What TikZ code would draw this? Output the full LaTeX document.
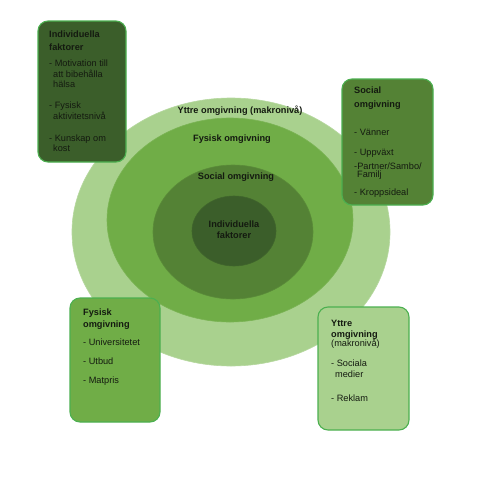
\documentclass[tikz,border=0pt]{standalone}
\usepackage{fontspec}
\setmainfont{Liberation Sans}
\definecolor{gA}{HTML}{A9D18E}
\definecolor{gB}{HTML}{70AD47}
\definecolor{gC}{HTML}{548235}
\definecolor{gD}{HTML}{3B5E2A}
\definecolor{gEdge}{HTML}{4CB050}
\definecolor{txt}{HTML}{141A10}
\begin{document}
\begin{tikzpicture}[x=1pt,y=-1pt,
  ring/.style={line width=0.6pt},
  panel/.style={draw=gEdge,line width=1.1pt,rounded corners=10pt,inner sep=0pt},
  ringlabel/.style={font=\fontsize{9.2}{10}\selectfont\bfseries,text=txt,inner sep=0pt,anchor=base},
  ttl/.style={font=\fontsize{9.2}{10}\selectfont\bfseries,text=txt,inner sep=0pt,anchor=base west},
  itm/.style={font=\fontsize{9.2}{10}\selectfont,text=txt,inner sep=0pt,anchor=base west}]
\useasboundingbox (0,0) rectangle (485,499);
\fill[white] (0,0) rectangle (485,499);
% rings
\filldraw[ring,fill=gA,draw=gA!85!white] (231,232) ellipse [x radius=159,y radius=134];
\filldraw[ring,fill=gB,draw=gB!80!gA] (230,220) ellipse [x radius=123,y radius=102];
\filldraw[ring,fill=gC,draw=gC!80!gB] (233,232) ellipse [x radius=80,y radius=67];
\filldraw[ring,fill=gD,draw=gD!80!gC] (234,231) ellipse [x radius=42,y radius=35];
% ring labels
\node[ringlabel] (l1) at (240,113.5) {Yttre omgivning (makronivå)};
\node[ringlabel] (l2) at (232,141.5) {Fysisk omgivning};
\node[ringlabel] (l3) at (236,179.5) {Social omgivning};
\node[ringlabel] (l4a) at (234,227.5) {Individuella};
\node[ringlabel] (l4b) at (234,238.5) {faktorer};
% panels
\path[panel,fill=gD] (38,21) rectangle (126,162);
\node (p1) at (82,91.5) {};
\path[panel,fill=gC] (342,79) rectangle (433,205);
\node (p2) at (387.5,142) {};
\path[panel,fill=gB] (70,298) rectangle (160,422);
\node (p3) at (115,360) {};
\path[panel,fill=gA] (318,307) rectangle (409,430);
\node (p4) at (363.5,368.5) {};
% panel 1 text
\node[ttl] (a1) at (49,37.5) {Individuella};
\node[ttl] (a2) at (49,50.5) {faktorer};
\node[itm] (a3) at (49,66.5) {- Motivation till};
\node[itm] (a4) at (53,77.5) {att bibehålla};
\node[itm] (a5) at (53,87.5) {hälsa};
\node[itm] (a6) at (49,108.5) {- Fysisk};
\node[itm] (a7) at (53,119.5) {aktivitetsnivå};
\node[itm] (a8) at (49,141.5) {- Kunskap om};
\node[itm] (a9) at (53,151.5) {kost};
% panel 2 text
\node[ttl] (b1) at (354,93.5) {Social};
\node[ttl] (b2) at (354,107.5) {omgivning};
\node[itm] (b3) at (354,135.5) {- Vänner};
\node[itm] (b4) at (354,155.5) {- Uppväxt};
\node[itm] (b5) at (354,169.5) {-Partner/Sambo/};
\node[itm] (b6) at (357,177.5) {Familj};
\node[itm] (b7) at (354,195.5) {- Kroppsideal};
% panel 3 text
\node[ttl] (c1) at (83,315.5) {Fysisk};
\node[ttl] (c2) at (83,327.5) {omgivning};
\node[itm] (c3) at (83,345.5) {- Universitetet};
\node[itm] (c4) at (83,364.5) {- Utbud};
\node[itm] (c5) at (83,383.5) {- Matpris};
% panel 4 text
\node[ttl] (d1) at (331,326.5) {Yttre};
\node[ttl] (d2) at (331,337.5) {omgivning};
\node[itm] (d3) at (331,346.5) {(makronivå)};
\node[itm] (d4) at (331,366.5) {- Sociala};
\node[itm] (d5) at (335,377.5) {medier};
\node[itm] (d6) at (331,401.5) {- Reklam};
\end{tikzpicture}
\end{document}
